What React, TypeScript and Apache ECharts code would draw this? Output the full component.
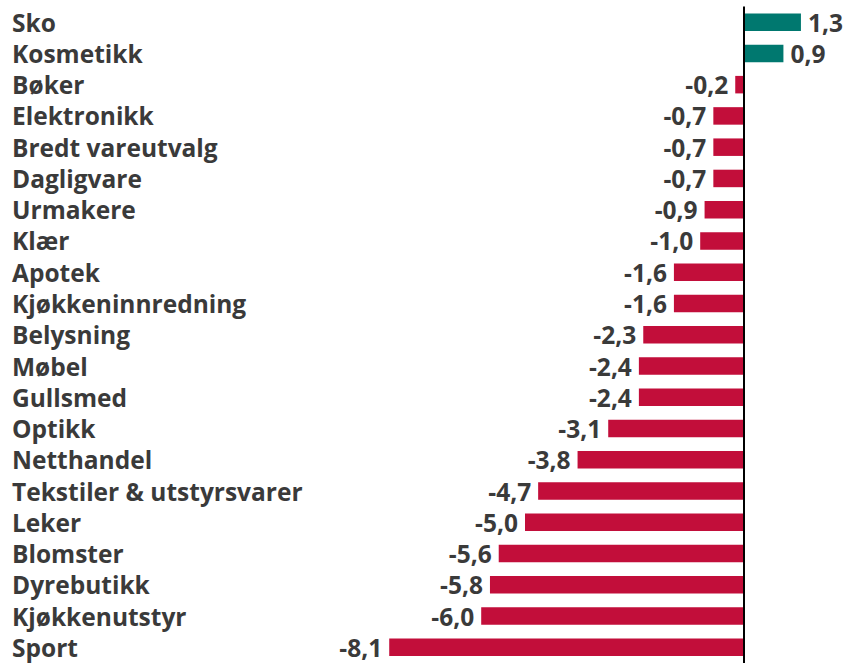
import React, { useEffect, useRef } from "react";
import * as echarts from "echarts";

const categories = [
  "Sko", "Kosmetikk", "Bøker", "Elektronikk", "Bredt vareutvalg", "Dagligvare",
  "Urmakere", "Klær", "Apotek", "Kjøkkeninnredning", "Belysning", "Møbel",
  "Gullsmed", "Optikk", "Netthandel", "Tekstiler & utstyrsvarer", "Leker",
  "Blomster", "Dyrebutikk", "Kjøkkenutstyr", "Sport",
];
const values = [
  1.3, 0.9, -0.2, -0.7, -0.7, -0.7, -0.9, -1.0, -1.6, -1.6, -2.3, -2.4,
  -2.4, -3.1, -3.8, -4.7, -5.0, -5.6, -5.8, -6.0, -8.1,
];

const POS = "#00786F";
const NEG = "#C20E3A";
const TXT = "#3A3A3A";
const FONT = "'Open Sans', 'Noto Sans', sans-serif";

export default function App() {
  const ref = useRef<HTMLDivElement>(null);
  useEffect(() => {
    const chart = echarts.init(ref.current!, null, { renderer: "svg" });
    const gridLeft = 349.8;
    chart.setOption({
      animation: false,
      grid: {
        left: gridLeft,
        right: 18.4,
        top: 6.5,
        bottom: 0,
        containLabel: false,
        outerBoundsMode: "none",
      },
      xAxis: {
        type: "value",
        min: -9,
        max: 2,
        axisLine: { show: false },
        axisTick: { show: false },
        axisLabel: { show: false },
        splitLine: { show: false },
      },
      yAxis: {
        type: "category",
        data: categories,
        inverse: true,
        axisLine: { show: false, onZero: false },
        axisTick: { show: false },
        axisLabel: {
          interval: 0,
          hideOverlap: false,
          align: "left",
          margin: gridLeft - 12,
          color: TXT,
          fontSize: 24.5,
          fontWeight: "bold",
          fontFamily: FONT,
          padding: [3, 0, 0, 0],
        },
      },
      series: [
        {
          type: "bar",
          barWidth: 17.5,
          data: values.map((v) => ({
            value: v,
            itemStyle: { color: v >= 0 ? POS : NEG },
            label: { position: v >= 0 ? "right" : "left" },
          })),
          label: {
            show: true,
            distance: 7,
            color: TXT,
            fontSize: 24.5,
            fontWeight: "bold",
            fontFamily: FONT,
            padding: [4, 0, 0, 0],
            formatter: (p: any) => p.value.toFixed(1).replace(".", ","),
          },
          markLine: {
            silent: true,
            symbol: "none",
            label: { show: false },
            lineStyle: { color: "#000", width: 2, type: "solid" },
            data: [{ xAxis: 0 }],
          },
        },
      ],
    });
    return () => chart.dispose();
  }, []);
  return <div ref={ref} style={{ width: 850, height: 663, position: "absolute", left: 0, top: 0 }} />;
}
